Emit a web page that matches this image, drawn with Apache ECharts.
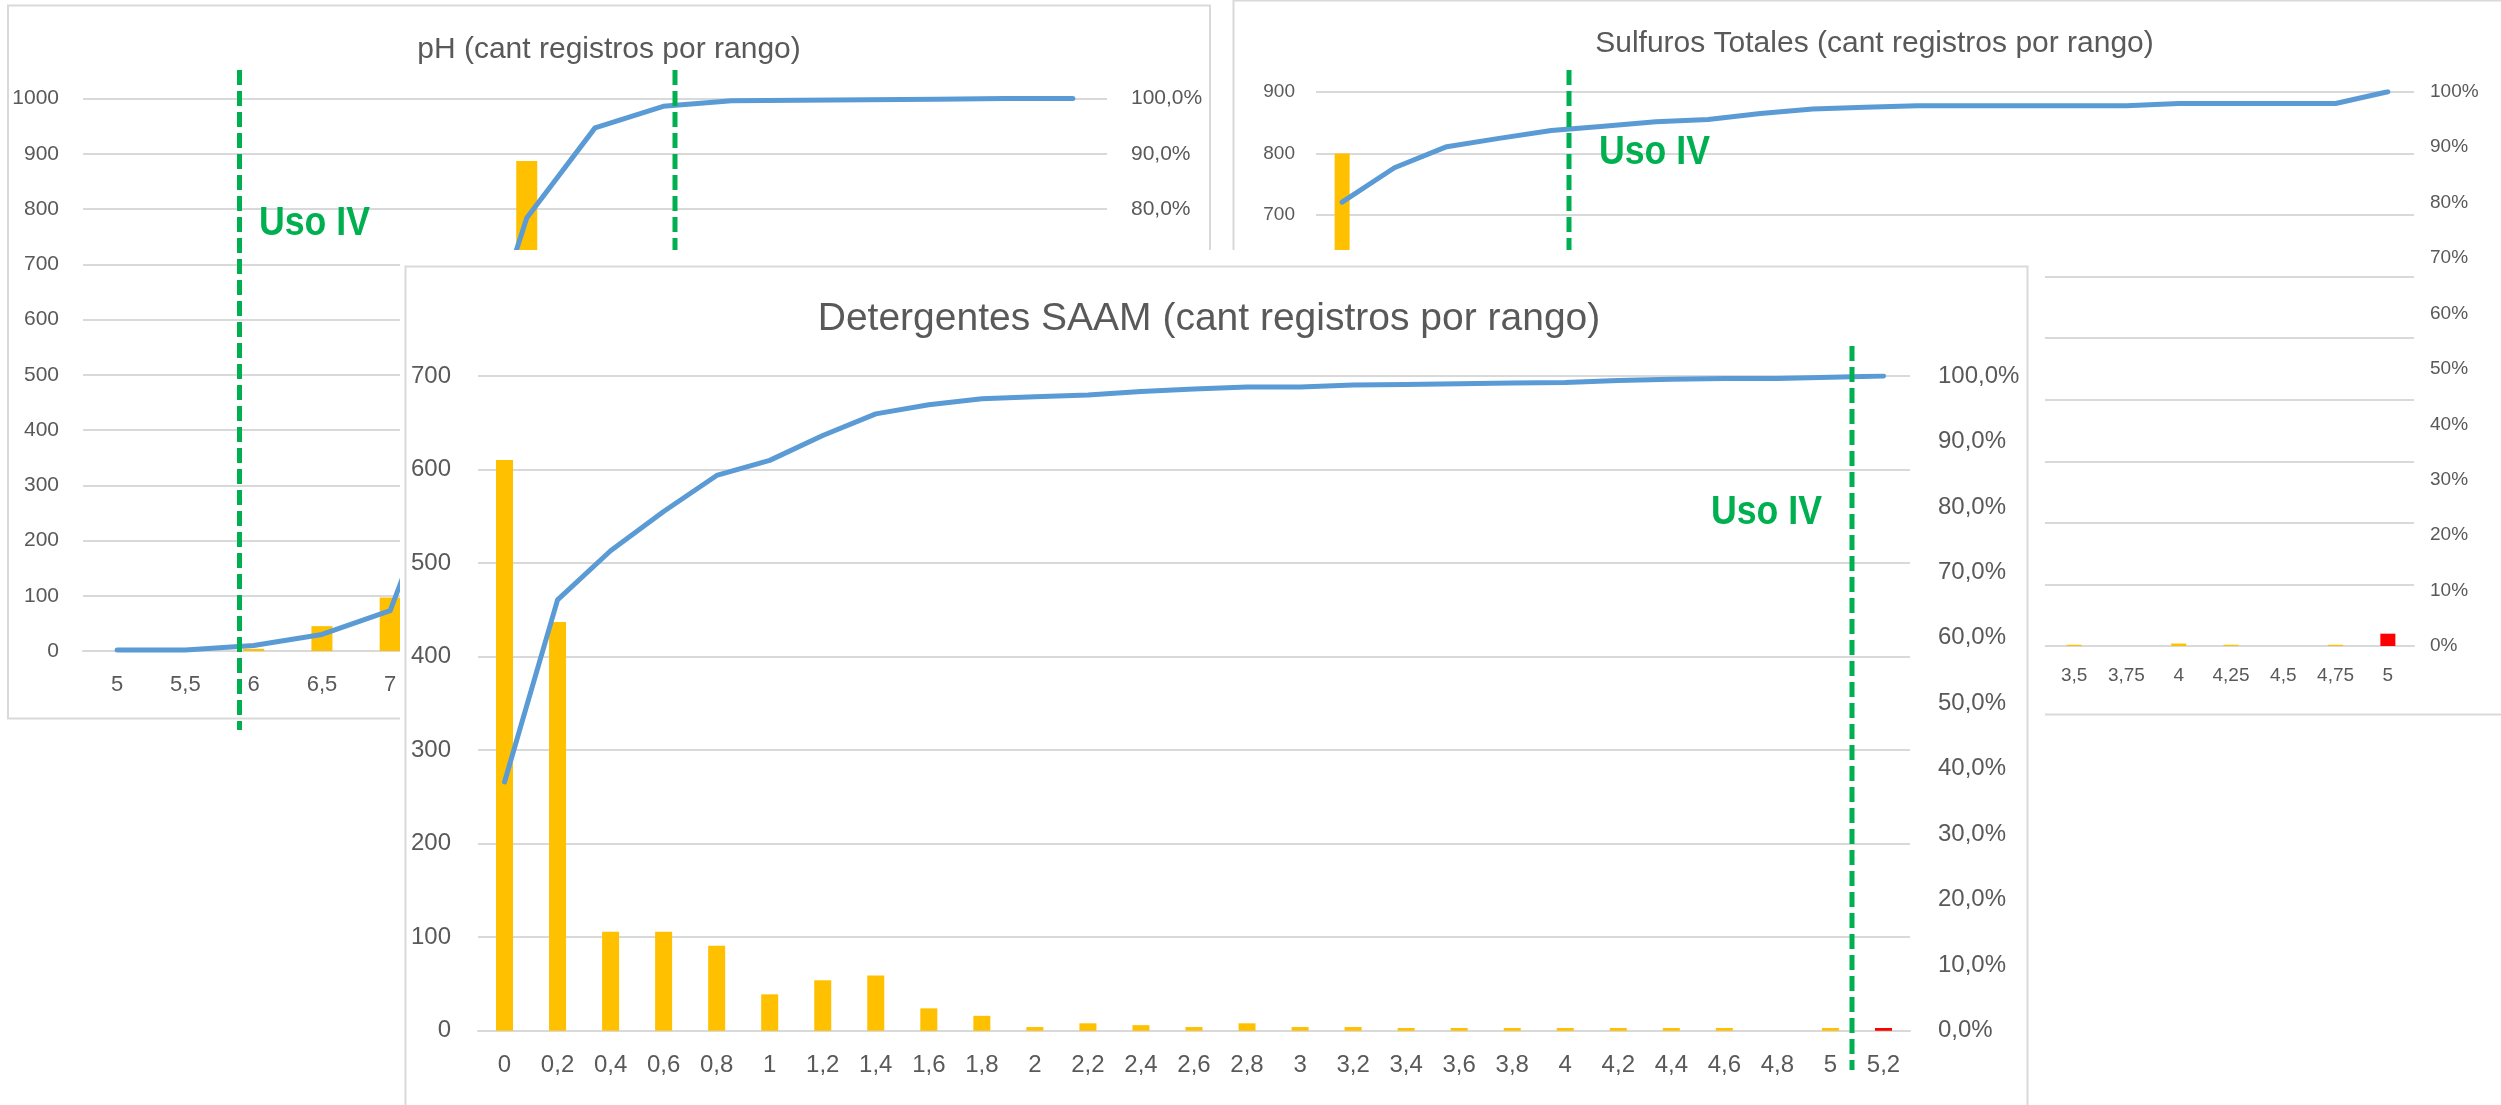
<!DOCTYPE html>
<html>
<head>
<meta charset="utf-8">
<title>Registros por rango</title>
<script src="https://cdn.jsdelivr.net/npm/echarts@6.0.0/dist/echarts.min.js"></script>
<style>
    html, body { margin: 0; padding: 0; background: #fff; overflow: hidden; }
    body { width: 2501px; height: 1105px; position: relative; }
    .panel { position: absolute; }
    #ph { left: 0; top: 0; width: 1218px; height: 740px; z-index: 1; }
    #sulfuros { left: 1230px; top: 0; width: 1289px; height: 740px; z-index: 1; }
    #detergentes { left: 400px; top: 250px; width: 1645px; height: 855px; z-index: 2; background: #fff; }
</style>
</head>
<body>
<div id="ph" class="panel"></div>
<div id="sulfuros" class="panel"></div>
<div id="detergentes" class="panel"></div>
<script>
// pH
var phCategorias = ['5', '5,5', '6', '6,5', '7', '7,5', '8', '8,5', '9', '9,5', '10', '10,5', '11', '11,5', '12'];
var phRegistros = [0, 0, 4, 45, 97, 700, 887, 375, 90, 25, 3, 2, 2, 1, 0];
var phAcumulado = [0.2, 0.2, 1.0, 3.0, 7.3, 40.0, 78.4, 94.7, 98.6, 99.6, 99.7, 99.8, 99.9, 100, 100];

// Sulfuros Totales
var sulfCategorias = ['0', '0,25', '0,5', '0,75', '1', '1,25', '1,5', '1,75', '2', '2,25', '2,5',
    '2,75', '3', '3,25', '3,5', '3,75', '4', '4,25', '4,5', '4,75', '5'];
var sulfRegistros = [800, 62, 38, 15, 14, 8, 8, 4, 11, 8, 3, 3, 0, 0, 2, 0, 4, 2, 0, 2, 20];
var sulfAcumulado = [80.1, 86.3, 90.1, 91.6, 93.0, 93.8, 94.6, 95.0, 96.1, 96.9, 97.2,
    97.5, 97.5, 97.5, 97.5, 97.5, 97.9, 97.9, 97.9, 97.9, 100];

// Detergentes SAAM
var detCategorias = ['0', '0,2', '0,4', '0,6', '0,8', '1', '1,2', '1,4', '1,6', '1,8', '2', '2,2', '2,4',
    '2,6', '2,8', '3', '3,2', '3,4', '3,6', '3,8', '4', '4,2', '4,4', '4,6', '4,8', '5', '5,2'];
var detRegistros = [610, 437, 106, 106, 91, 39, 54, 59, 24, 16, 4, 8, 6,
    4, 8, 4, 4, 3, 3, 3, 3, 3, 3, 3, 0, 3, 3];
var detAcumulado = [38.0, 65.8, 73.3, 79.3, 84.8, 87.1, 90.9, 94.2, 95.6, 96.5, 96.8, 97.1, 97.6,
    98.0, 98.3, 98.3, 98.6, 98.7, 98.8, 98.9, 99.0, 99.3, 99.5, 99.6, 99.6, 99.8, 100];

var GOLD = '#FFC000', RED = '#FF0000', BLUE = '#5B9BD5', GREEN = '#00B050';
var GRID = '#D9D9D9', TEXT = '#595959';
var FONT = '"Liberation Sans", Arial, sans-serif';

function pct1(v) { return v.toFixed(1).replace('.', ',') + '%' }
function pct0(v) { return Math.round(v) + '%' }
function entero(v) { return String(v) }

// linea verde punteada "Uso IV"
function lineaUso(x, y1, y2) {
    return {
        type: 'line', z: 100,
        shape: { x1: x, y1: y1, x2: x, y2: y2 },
        style: { stroke: GREEN, lineWidth: 5, lineDash: [15, 6] }
    }
}

function textoUso(x, y) {
    return {
        type: 'text', z: 100, x: x, y: y, scaleX: 0.87,
        style: {
            text: 'Uso IV', fill: GREEN, font: 'bold 41px ' + FONT,
            align: 'left', verticalAlign: 'middle', textAlign: 'left', textVerticalAlign: 'middle'
        }
    }
}

function renderPanel(id, cfg) {
    var chart = echarts.init(document.getElementById(id));
    var option = {
        animation: false,
        backgroundColor: '#fff',
        title: {
            text: cfg.titulo,
            left: cfg.tituloX - 5,
            top: cfg.tituloTop,
            textAlign: 'center',
            textStyle: { color: TEXT, fontSize: cfg.tituloSize, fontWeight: 'normal', fontFamily: FONT }
        },
        grid: cfg.grid,
        xAxis: {
            type: 'category',
            data: cfg.categorias,
            axisTick: { show: false },
            axisLine: { lineStyle: { color: GRID, width: 2 } },
            axisLabel: { interval: 0, color: TEXT, fontSize: cfg.xSize, margin: cfg.xMargin, fontFamily: FONT }
        },
        yAxis: [{
            type: 'value', min: 0, max: cfg.yMax, interval: 100,
            axisLine: { show: false }, axisTick: { show: false },
            splitLine: { lineStyle: { color: GRID, width: 2 } },
            axisLabel: { color: TEXT, fontSize: cfg.ySize, margin: cfg.yMargin, fontFamily: FONT, formatter: entero }
        }, {
            type: 'value', min: 0, max: 100, interval: 10, position: 'right',
            axisLine: { show: false }, axisTick: { show: false }, splitLine: { show: false },
            axisLabel: { color: TEXT, fontSize: cfg.ySize, margin: cfg.y2Margin, fontFamily: FONT, formatter: cfg.formato }
        }],
        series: [{
            type: 'bar',
            data: cfg.registros,
            barWidth: cfg.barWidth,
            itemStyle: {
                color: function(p) { return p.dataIndex === cfg.rojo ? RED : GOLD }
            }
        }, {
            type: 'line',
            yAxisIndex: 1,
            data: cfg.acumulado,
            symbol: 'none',
            z: 3,
            lineStyle: { color: BLUE, width: cfg.lineWidth, join: 'round', cap: 'round' }
        }],
        graphic: [{
            type: 'rect', z: 90,
            shape: cfg.borde,
            style: { fill: null, stroke: GRID, lineWidth: 2 }
        }].concat(cfg.extras)
    };
    chart.setOption(option);
}

// run
new function main() {
    renderPanel('ph', {
        titulo: 'pH (cant registros por rango)', tituloX: 609, tituloTop: 30, tituloSize: 30,
        categorias: phCategorias, registros: phRegistros, acumulado: phAcumulado, rojo: -1,
        grid: { left: 83, top: 98.6, width: 1024, height: 552.4 },
        yMax: 1000, ySize: 21, yMargin: 24, y2Margin: 24, formato: pct1,
        xSize: 22, xMargin: 23, barWidth: 21, lineWidth: 5,
        borde: { x: 8, y: 5.5, width: 1202, height: 713 },
        extras: [lineaUso(239.5, 70, 730), lineaUso(675, 70, 300), textoUso(259, 224)]
    });

    renderPanel('sulfuros', {
        titulo: 'Sulfuros Totales (cant registros por rango)', tituloX: 644.5, tituloTop: 24, tituloSize: 30,
        categorias: sulfCategorias, registros: sulfRegistros, acumulado: sulfAcumulado, rojo: 20,
        grid: { left: 86, top: 91.8, width: 1098, height: 554.2 },
        yMax: 900, ySize: 19, yMargin: 21, y2Margin: 16, formato: pct0,
        xSize: 19, xMargin: 20, barWidth: 15, lineWidth: 5,
        borde: { x: 3.5, y: 0.5, width: 1283, height: 714 },
        extras: [lineaUso(339, 70, 300), textoUso(369, 153)]
    });

    renderPanel('detergentes', {
        titulo: 'Detergentes SAAM (cant registros por rango)', tituloX: 809, tituloTop: 44.5, tituloSize: 39,
        categorias: detCategorias, registros: detRegistros, acumulado: detAcumulado, rojo: 26,
        grid: { left: 78, top: 125.9, width: 1432, height: 654.9 },
        yMax: 700, ySize: 24, yMargin: 27, y2Margin: 28, formato: pct1,
        xSize: 24, xMargin: 23, barWidth: 17, lineWidth: 5,
        borde: { x: 5.5, y: 16.5, width: 1622, height: 900 },
        extras: [lineaUso(1452, 96, 820), textoUso(1311, 262.5)]
    });
}
</script>
</body>
</html>
